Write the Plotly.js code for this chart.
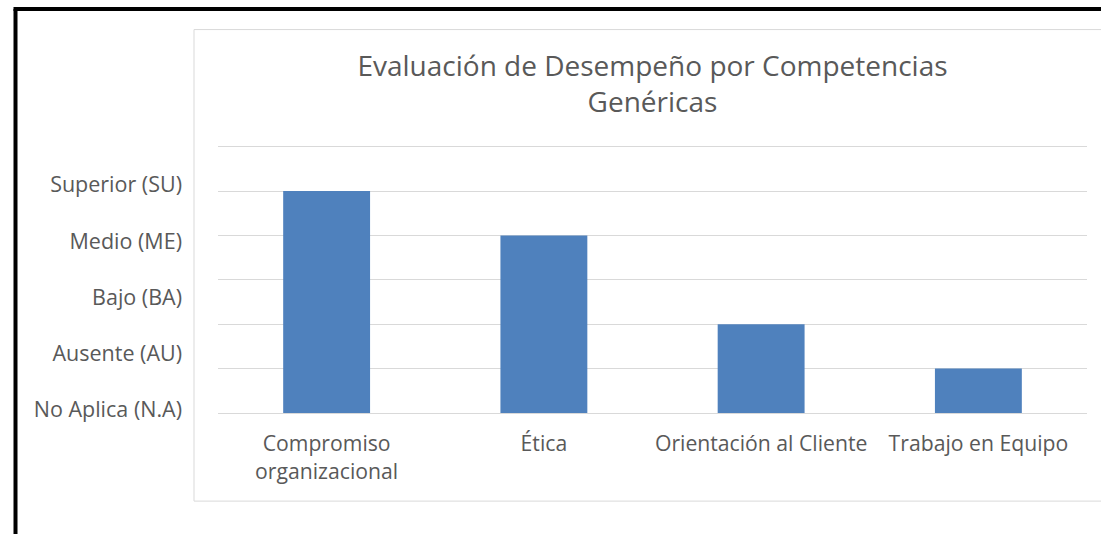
<!DOCTYPE html>
<html>
<head>
<meta charset="utf-8">
<script src="https://cdn.plot.ly/plotly-3.0.1.min.js"></script>
<style>
  html, body { margin: 0; padding: 0; background: #ffffff; }
  #chart { width: 1101px; height: 534px; }
</style>
</head>
<body>
<div id="chart"></div>
<script>
// ---- data ----
const categories = ["Compromiso<br>organizacional", "Ética", "Orientación al Cliente", "Trabajo en Equipo"];
const scores = [5, 4, 2, 1];
const levelLabels = ["No Aplica (N.A)", "Ausente (AU)", "Bajo (BA)", "Medio (ME)", "Superior (SU)"];
const chartTitle = "Evaluación de Desempeño por Competencias<br>Genéricas";

// ---- style ----
const textColor = "#595959";
const fontFam = "'Open Sans', Lato, sans-serif";
const barColor = "#4F81BD";
const gridColor = "#D9D9D9";

const yMax = 6.06;
// label axis: first label sits just above 0, labels spaced 1.2675 grid units
const labelStep = 1.2675, labelOffset = 0.07;
const y2Range = [-labelOffset / labelStep, (yMax - labelOffset) / labelStep];

const traces = [
  {
    type: "bar",
    x: categories,
    y: scores,
    marker: { color: barColor },
    hoverinfo: "x+y"
  },
  {
    type: "scatter",
    x: [],
    y: [],
    yaxis: "y2",
    hoverinfo: "skip",
    showlegend: false
  }
];

const plotTop = 144.3, plotBottom = 413, plotLeft = 218, plotRight = 1087;
const ph = plotBottom - plotTop, pw = plotRight - plotLeft;
const px = v => (v - plotLeft) / pw;
const py = v => (plotBottom - v) / ph;

const layout = {
  width: 1101,
  height: 534,
  paper_bgcolor: "#ffffff",
  plot_bgcolor: "#ffffff",
  showlegend: false,
  bargap: 0.6,
  margin: { l: plotLeft, r: 1101 - plotRight, t: plotTop, b: 534 - plotBottom },
  font: { family: fontFam, color: textColor, size: 21 },
  title: {
    text: chartTitle,
    font: { family: fontFam, size: 28, color: textColor },
    xref: "paper", x: 0.5, xanchor: "center",
    yref: "container", y: 1 - 75.5 / 534, yanchor: "middle"
  },
  xaxis: {
    type: "category",
    showgrid: false,
    showline: false,
    ticks: "",
    tickfont: { family: fontFam, size: 21.2, color: textColor },
    ticklabelstandoff: 16
  },
  yaxis: {
    range: [0, yMax],
    dtick: 1,
    showticklabels: false,
    showgrid: true,
    gridcolor: gridColor,
    gridwidth: 1,
    zeroline: true,
    zerolinecolor: gridColor,
    zerolinewidth: 1,
    showline: false,
    ticks: "",
    fixedrange: true
  },
  yaxis2: {
    overlaying: "y",
    side: "left",
    range: y2Range,
    tickmode: "array",
    tickvals: levelLabels.map((_, i) => i),
    ticktext: levelLabels,
    showgrid: false,
    zeroline: false,
    showline: false,
    ticks: "",
    ticklabelstandoff: 35,
    tickfont: { family: fontFam, size: 21.5, color: textColor }
  },
  shapes: [
    // inner chart-area frame
    { type: "rect", xref: "paper", yref: "paper",
      x0: px(194), x1: px(1102), y0: py(501), y1: py(30),
      line: { color: gridColor, width: 1 }, fillcolor: "rgba(0,0,0,0)", layer: "below" },
    // black outer picture border (left & top)
    { type: "line", xref: "paper", yref: "paper",
      x0: px(15.5), x1: px(15.5), y0: py(540), y1: py(9.5),
      line: { color: "#000000", width: 4 } },
    { type: "line", xref: "paper", yref: "paper",
      x0: px(13.5), x1: px(1105), y0: py(9.5), y1: py(9.5),
      line: { color: "#000000", width: 4 } }
  ]
};

Plotly.newPlot("chart", traces, layout, { displayModeBar: false, staticPlot: true });
</script>
</body>
</html>
